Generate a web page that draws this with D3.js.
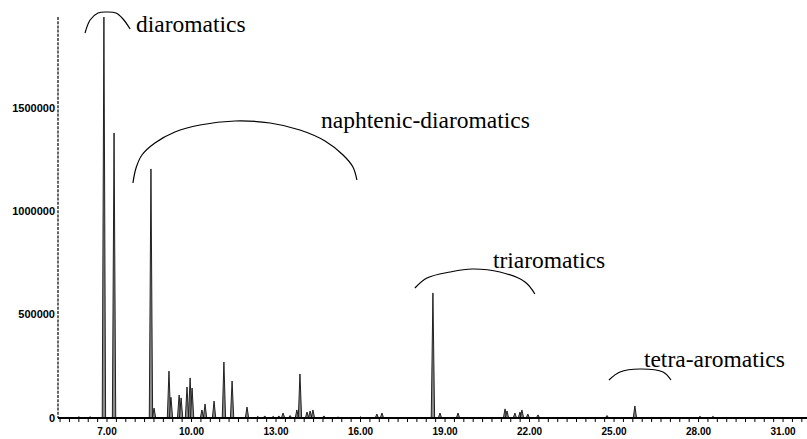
<!DOCTYPE html>
<html>
<head>
<meta charset="utf-8">
<script src="https://cdn.jsdelivr.net/npm/d3@7"></script>
<style>
  body { margin: 0; background: #fff; }
  svg { display: block; }
</style>
</head>
<body>
<svg id="chart"></svg>
<script>
const width = 807;
const height = 439;

// retention time (min) and intensity of each peak
const peakTimes = [6.89, 7.25, 8.56, 8.67, 9.20, 9.27, 9.56, 9.63, 9.84, 9.95, 10.02, 10.37, 10.48, 10.80,
    11.15, 11.44, 11.97, 12.35, 12.60, 12.90, 13.10, 13.25, 13.50, 13.74, 13.85, 14.10, 14.21, 14.31,
    14.70, 15.20, 16.00, 16.58, 16.76, 18.57, 18.82, 19.46, 21.13, 21.20, 21.48, 21.66, 21.73, 21.94,
    22.30, 24.75, 25.74, 28.05, 28.51, 6.00, 6.40];
const peakHeights = [1940000, 1379000, 1205000, 48000, 227000, 100000, 111000, 97000, 150000, 194000, 145000, 39000, 68000, 82000,
    271000, 179000, 53000, 8000, 10000, 8000, 10000, 24000, 12000, 39000, 213000, 29000, 34000, 39000,
    10000, 5000, 6000, 19000, 24000, 605000, 24000, 24000, 44000, 34000, 24000, 29000, 39000, 19000,
    15000, 12000, 58000, 8000, 8000, 6000, 6000];

const xMajorTicks = [7, 10, 13, 16, 19, 22, 25, 28, 31];
const yTicks = [0, 500000, 1000000, 1500000];

// group annotations: label, label anchor [time, intensity], bracket arc points
const noteLabels = ["diaromatics", "naphtenic-diaromatics", "triaromatics", "tetra-aromatics"];
const noteAnchors = [[8.03, 1867000], [14.60, 1403000], [20.70, 725700], [26.06, 246700]];
const noteArcs = [
    [[6.22, 1862600], [6.40, 1925500], [6.68, 1959400], [7.00, 1964200], [7.32, 1959400], [7.57, 1930400], [7.82, 1882000]],
    [[7.92, 1137000], [8.03, 1209500], [8.24, 1272400], [8.70, 1330500], [9.41, 1383700], [10.30, 1417500], [11.54, 1436900],
     [12.79, 1427200], [13.85, 1393300], [14.74, 1340100], [15.38, 1272400], [15.73, 1214300], [15.87, 1151400]],
    [[17.93, 628900], [18.36, 677300], [19.18, 706300], [19.96, 720900], [20.95, 706300], [21.84, 658000], [22.19, 599900]],
    [[24.82, 183800], [25.21, 222500], [25.92, 237100], [26.74, 222500], [27.02, 183800]]
];

const sansFont = "'Liberation Sans', Arial, Helvetica, sans-serif";
const serifFont = "'Liberation Serif', 'Times New Roman', Times, serif";

const svg = d3.select("#chart").attr("width", width).attr("height", height);

const x = d3.scaleLinear().domain([5.26, 31.85]).range([58, 807]);
const y = d3.scaleLinear().domain([0, 1940000]).range([418, 17]);

// peaks
const peaks = peakTimes.map((t, i) => ({ t: t, h: peakHeights[i] }));
const halfWidth = 0.06;
svg.append("g").selectAll("path").data(peaks).join("path")
    .attr("d", d => `M${x(d.t - halfWidth)},${y(0)}L${x(d.t)},${y(d.h)}L${x(d.t + halfWidth)},${y(0)}`)
    .attr("fill", "#8a8a8a")
    .attr("stroke", "#111")
    .attr("stroke-width", 0.9)
    .attr("stroke-linejoin", "miter");

// x axis
const xAxis = svg.append("g");
xAxis.append("line")
    .attr("x1", x.range()[0]).attr("x2", x.range()[1])
    .attr("y1", y(0)).attr("y2", y(0))
    .attr("stroke", "#000").attr("stroke-width", 2);
const minorTicks = d3.range(16, 96).map(k => k / 3);
xAxis.selectAll(".minor").data(minorTicks).join("line")
    .attr("class", "minor")
    .attr("x1", d => x(d)).attr("x2", d => x(d))
    .attr("y1", y(0)).attr("y2", y(0) + 4)
    .attr("stroke", "#000").attr("stroke-width", 1);
xAxis.selectAll("text").data(xMajorTicks).join("text")
    .attr("x", d => x(d)).attr("y", y(0) + 17)
    .attr("text-anchor", "middle")
    .attr("font-family", sansFont)
    .attr("font-weight", "bold")
    .attr("font-size", 10)
    .text(d => d.toFixed(2));

// y axis
const yAxis = svg.append("g");
yAxis.append("line")
    .attr("x1", x.range()[0]).attr("x2", x.range()[0])
    .attr("y1", y.range()[1]).attr("y2", y(0))
    .attr("stroke", "#000").attr("stroke-width", 1.2)
    .attr("stroke-dasharray", "3,1.2");
yAxis.selectAll("text").data(yTicks).join("text")
    .attr("x", x.range()[0] - 3).attr("y", d => y(d))
    .attr("dy", "0.35em")
    .attr("text-anchor", "end")
    .attr("font-family", sansFont)
    .attr("font-weight", "bold")
    .attr("font-size", 11)
    .text(d => d);

// annotations
const arcLine = d3.line().x(d => x(d[0])).y(d => y(d[1])).curve(d3.curveCatmullRom);
svg.append("g").selectAll("path").data(noteArcs).join("path")
    .attr("d", arcLine)
    .attr("fill", "none")
    .attr("stroke", "#000")
    .attr("stroke-width", 1.2);
svg.append("g").selectAll("text").data(noteLabels).join("text")
    .attr("x", (d, i) => x(noteAnchors[i][0]))
    .attr("y", (d, i) => y(noteAnchors[i][1]))
    .attr("font-family", serifFont)
    .attr("font-size", 23.5)
    .text(d => d);
</script>
</body>
</html>
